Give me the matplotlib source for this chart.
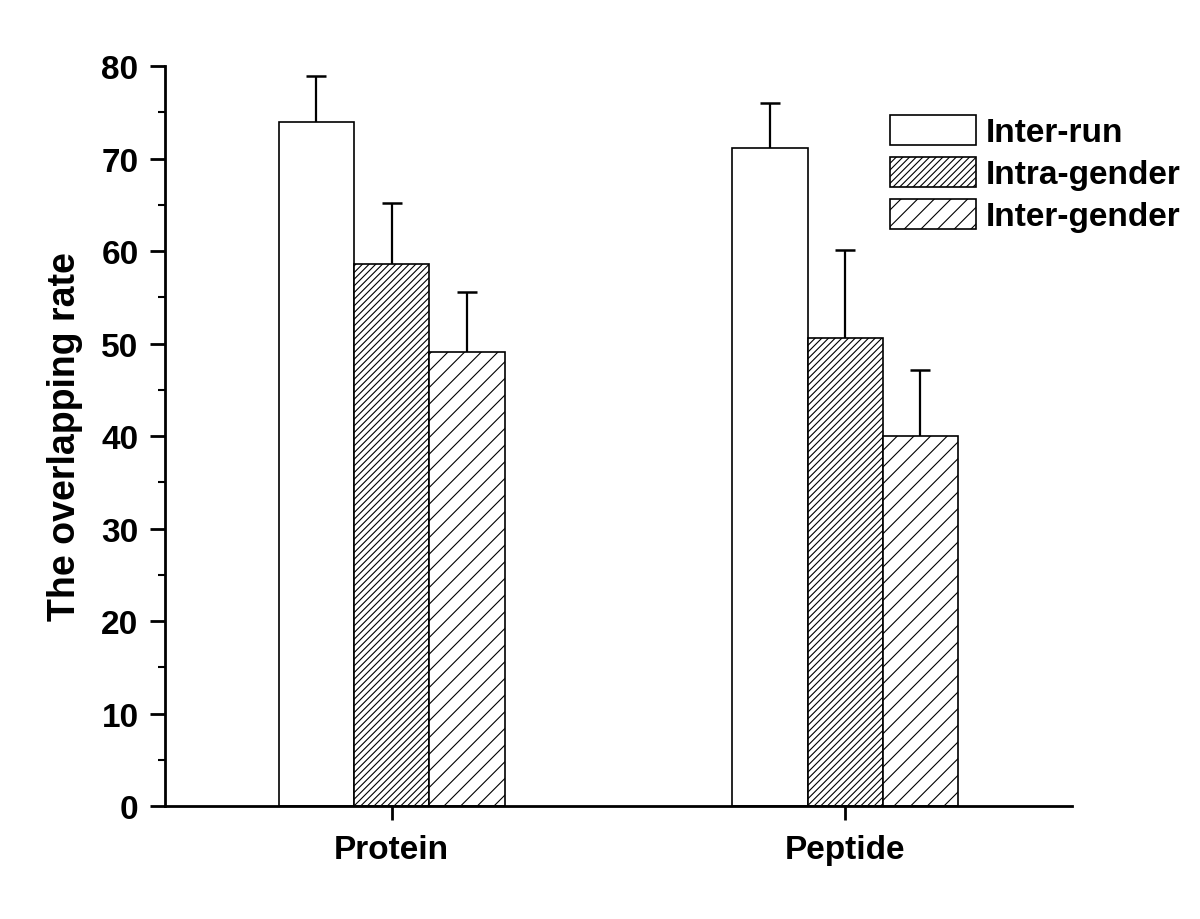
import numpy as np
import matplotlib.pyplot as plt
from matplotlib.ticker import MultipleLocator

plt.rcParams['font.family'] = ['Liberation Sans', 'DejaVu Sans']
plt.rcParams['font.weight'] = 'bold'
plt.rcParams['hatch.linewidth'] = 0.8

groups = ["Protein", "Peptide"]
series = ["Inter-run", "Intra-gender", "Inter-gender"]
means = {
    "Inter-run": [74.0, 71.1],
    "Intra-gender": [58.6, 50.6],
    "Inter-gender": [49.1, 40.0],
}
errors = {
    "Inter-run": [4.9, 4.9],
    "Intra-gender": [6.6, 9.5],
    "Inter-gender": [6.5, 7.1],
}
hatches = ["", "/////", "//"]

fig = plt.figure(figsize=(12, 9.2), dpi=100)
ax = fig.add_axes([0.1375, 0.1228, 0.7558, 0.8043])

x = np.arange(1, len(groups) + 1)
w = 0.166
for i, s in enumerate(series):
    xs = x + (i - 1) * w
    m = np.array(means[s])
    e = np.array(errors[s])
    ax.bar(xs, m, w, color="white", edgecolor="black", linewidth=1.2,
           hatch=hatches[i], label=s, zorder=2)
    # upper error only, cap at the top
    ax.vlines(xs, m, m + e, color="black", linewidth=1.6, zorder=3)
    ax.plot(xs, m + e, ls="", marker="_", ms=14, mew=1.8, color="black", zorder=3)

ax.set_xlim(0.5, 2.5)
ax.set_ylim(0, 80)
ax.set_xticks(x)
ax.set_xticklabels(groups, fontsize=24, fontweight="bold")
ax.yaxis.set_major_locator(MultipleLocator(10))
ax.yaxis.set_minor_locator(MultipleLocator(5))
ax.tick_params(axis="y", labelsize=24, width=2, length=11, direction="out", pad=8)
ax.tick_params(axis="y", which="minor", width=1.5, length=5)
ax.tick_params(axis="x", width=2, length=10, direction="out", pad=10)
for lab in ax.get_yticklabels():
    lab.set_fontweight("bold")

ax.spines["top"].set_visible(False)
ax.spines["right"].set_visible(False)
ax.spines["left"].set_linewidth(2)
ax.spines["bottom"].set_linewidth(2)
ax.set_ylabel("The overlapping rate", fontsize=27, fontweight="bold", labelpad=13)

leg = ax.legend(loc="upper left", bbox_to_anchor=(0.799, 0.934), frameon=False,
                fontsize=24, handlelength=2.58, handleheight=1.0,
                handletextpad=0.3, labelspacing=0.26, borderpad=0,
                borderaxespad=0)
for t in leg.get_texts():
    t.set_fontweight("bold")

fig.savefig("out.png", dpi=100)
